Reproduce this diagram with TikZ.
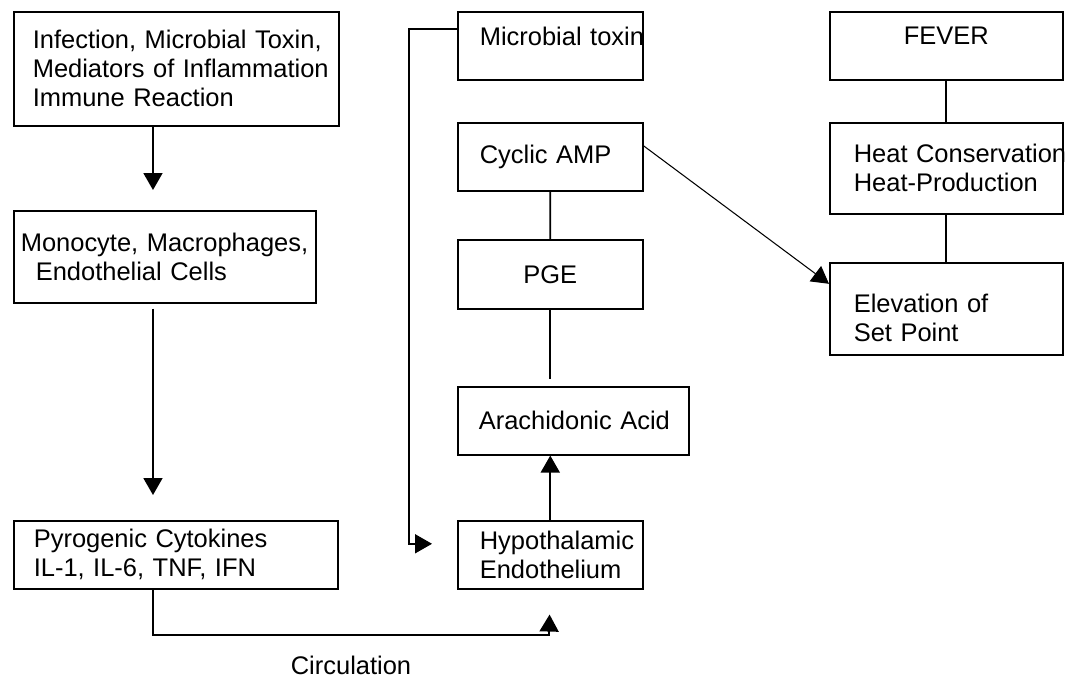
\documentclass[tikz,border=0pt]{standalone}
\usepackage{fontspec}
\setmainfont{Liberation Sans}
\usetikzlibrary{arrows.meta, positioning}
\tikzset{
    box/.style={
        rectangle, draw=black, line width=0.9pt,
        anchor=north west, inner ysep=0pt
    },
    leftbox/.style={
        box, align=left
    },
    arrow/.style={-{Triangle[length=0.34cm, width=0.38cm]}, line width=1pt},
    link/.style={line width=1pt}
}

\begin{document}
\begin{tikzpicture}[x=0.02cm, y=-0.02cm, font=\fontsize{14.5}{16.5}\selectfont]
    \useasboundingbox (0,0) rectangle (1065,677);

    % Left column
    \node[leftbox, minimum width=6.5cm, minimum height=2.28cm, inner xsep=0.38cm, text width=5.74cm] (infect) at (13,11)
        {\mbox{Infection, Microbial Toxin,}\\ \mbox{Mediators of Inflammation}\\ Immune Reaction};
    \node[leftbox, minimum width=6.04cm, minimum height=1.84cm, inner xsep=0.14cm, text width=5.76cm] (mono) at (13,210)
        {\mbox{Monocyte, Macrophages,}\\ \hspace*{0.3cm}Endothelial Cells};
    \node[leftbox, minimum width=6.48cm, minimum height=1.36cm, inner xsep=0.4cm, text width=5.68cm] (cyto) at (13,520)
        {Pyrogenic Cytokines\\ IL-1, IL-6, TNF, IFN};

    % Middle column
    \node[leftbox, minimum width=3.7cm, minimum height=1.36cm, inner xsep=0.44cm, text width=2.82cm, text depth=0.4cm] (toxin) at (457,11)
        {\mbox{Microbial toxin}};
    \node[leftbox, minimum width=3.7cm, minimum height=1.36cm, inner xsep=0.44cm, text width=2.82cm] (camp) at (457,122)
        {\mbox{Cyclic AMP}};
    \node[box, minimum width=3.7cm, minimum height=1.38cm] (pge) at (457,239) {PGE};
    \node[leftbox, minimum width=4.62cm, minimum height=1.36cm, inner xsep=0.42cm, text width=3.78cm] (arach) at (457,386)
        {\mbox{Arachidonic Acid}};
    \node[leftbox, minimum width=3.7cm, minimum height=1.36cm, inner xsep=0.44cm, text width=2.82cm] (hypo) at (457,520)
        {\mbox{Hypothalamic}\\ \mbox{Endothelium}};

    % Right column
    \node[box, minimum width=4.66cm, minimum height=1.36cm, text depth=0.4cm] (fever) at (829,11) {FEVER};
    \node[leftbox, minimum width=4.66cm, minimum height=1.82cm, inner xsep=0.48cm, text width=3.7cm] (heat) at (829,122)
        {\mbox{Heat Conservation}\\ \mbox{Heat-Production}};
    \node[leftbox, minimum width=4.66cm, minimum height=1.84cm, inner xsep=0.48cm, text width=3.7cm, text height=0.73cm] (setpt) at (829,262)
        {Elevation of\\ Set Point};

    \node (circlabel) at (351,665) {Circulation};

    % Connectors
    \coordinate (circ) at (549,635);
    \coordinate (bend) at (409,300);

    \draw[arrow, shorten >=0.4cm] ([xshift=2.8cm]infect.south west) -- ([xshift=2.8cm]mono.north west);
    \draw[arrow, shorten <=0.1cm, shorten >=0.5cm] ([xshift=2.8cm]mono.south west) -- ([xshift=2.8cm]cyto.north west);
    \draw[arrow, shorten >=0.5cm] ([xshift=2.8cm]cyto.south west) |- (circ) -- (hypo.south);
    \draw[arrow, shorten >=0.5cm] ([yshift=0.34cm]toxin.west) -| (bend) |- ([yshift=0.22cm]hypo.west);
    \draw[arrow] (hypo.north) -- (hypo.north |- arach.south);
    \draw[link, shorten >=0.14cm] (pge.south) -- (pge.south |- arach.north);
    \draw[link] (camp.south) -- (pge.north);
    \draw[link] (fever.south) -- (heat.north);
    \draw[link] (heat.south) -- (setpt.north);
    \draw[arrow, line width=0.6pt] ([yshift=0.22cm]camp.east) -- ([yshift=0.5cm]setpt.west);
\end{tikzpicture}
\end{document}
